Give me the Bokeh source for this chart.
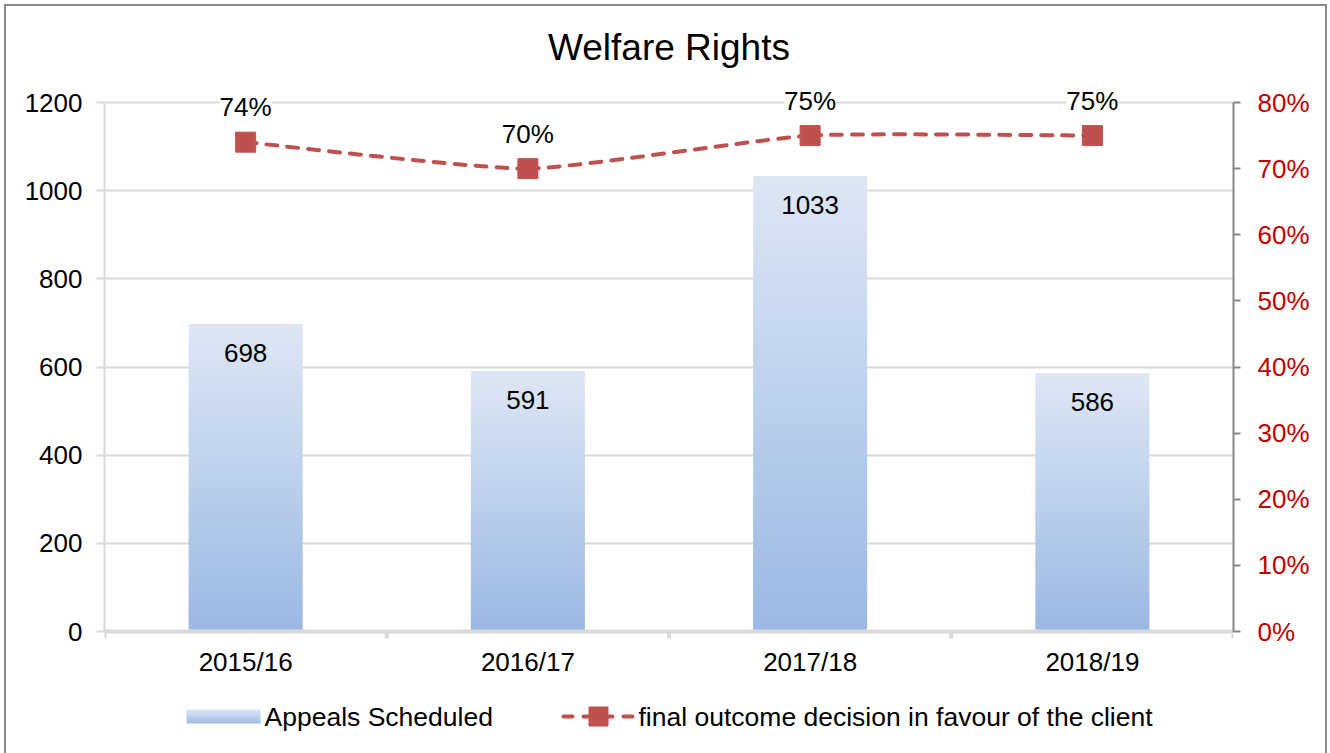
import numpy as np
from bokeh.plotting import figure
from bokeh.models import (Range1d, LinearAxis, FixedTicker, ColumnDataSource, LabelSet,
                          NumeralTickFormatter)
from bokeh.core.properties import value
from bokeh.embed import file_html
from bokeh.resources import INLINE

# ---- data ----
categories = ["2015/16", "2016/17", "2017/18", "2018/19"]
appeals = [698, 591, 1033, 586]
favour_pct = [0.74, 0.70, 0.75, 0.75]
left_ticks = [0, 200, 400, 600, 800, 1000, 1200]
right_ticks = [0.0, 0.1, 0.2, 0.3, 0.4, 0.5, 0.6, 0.7, 0.8]
legend_labels = ["Appeals Scheduled", "final outcome decision in favour of the client"]

FONT = "Liberation Sans"
RED = "#C0504D"
GRID = "#d9d9d9"
FS = "26px"
FS_LEG = "26.5px"

# ---- layout (pixels) ----
W, H = 1330, 753
FL, FR, FT, FB = 104, 1233, 80, 745      # plotting frame edges
PY0, PYTOP = 631, 102                    # pixel rows of the axis zero and of the top tick
upp_l = left_ticks[-1] / (PY0 - PYTOP)   # left-axis units per pixel
upp_r = right_ticks[-1] / (PY0 - PYTOP)  # right-axis units per pixel
ncat = len(categories)
xpp = ncat / (FR - FL)                   # x units per pixel

def X(px):
    return (px - FL) * xpp

def YL(py):
    return (PY0 - py) * upp_l

p = figure(width=W, height=H, output_backend="svg", toolbar_location=None,
           x_range=Range1d(0, ncat),
           y_range=Range1d(-(FB - PY0) * upp_l, (PY0 - FT) * upp_l),
           title="Welfare Rights",
           min_border_left=FL, min_border_right=W - FR, min_border_top=FT, min_border_bottom=H - FB)
p.extra_y_ranges = {"pct": Range1d(-(FB - PY0) * upp_r, (PY0 - FT) * upp_r)}
p.outline_line_color = None
p.background_fill_color = "white"
p.border_fill_color = None

p.title.align = "center"
p.title.text_font = FONT
p.title.text_font_size = "37px"
p.title.text_font_style = "normal"
p.title.text_color = "black"
p.title.standoff = 26

xc = np.arange(ncat) + 0.5

# ---- gradient bars (per bar: light at top, blue at bottom) ----
N = 60
bottom_rgb = np.array([155, 184, 228])
top_rgb = np.array([222, 231, 244])

def grad(i, n):
    c = bottom_rgb + (top_rgb - bottom_rgb) * ((i + 0.5) / n)
    return "#%02x%02x%02x" % tuple(int(round(t)) for t in c)

qx0, qx1, qb, qt, qc = [], [], [], [], []
bw = 0.404
for x, v in zip(xc, appeals):
    for i in range(N):
        qx0.append(x - bw / 2)
        qx1.append(x + bw / 2)
        qb.append(v * i / N)
        qt.append(min(v, v * (i + 1.2) / N))
        qc.append(grad(i, N))
p.quad(left=qx0, right=qx1, bottom=qb, top=qt, fill_color=qc, line_color=None)

# ---- category axis (drawn at zero) ----
p.xaxis.visible = False
p.xgrid.visible = False
p.segment(x0=[0], y0=[0], x1=[ncat], y1=[0], line_color=GRID, line_width=4)
bnd = list(range(ncat + 1))
p.segment(x0=bnd, y0=[0] * len(bnd), x1=bnd, y1=[-7 * upp_l] * len(bnd),
          line_color=GRID, line_width=4)
src_cat = ColumnDataSource(dict(x=list(xc), y=[0] * ncat, t=categories))
p.add_layout(LabelSet(x="x", y="y", text="t", source=src_cat, y_offset=-30,
                      text_align="center", text_baseline="middle",
                      text_font=value(FONT), text_font_size=FS, text_color="black"))

# ---- smoothed dashed line (bezier through the points) ----
k = 1 / 12
pts_x = list(xc)
pts_y = list(favour_pct)
n = len(pts_x)
bx0, by0, bx1, by1, c0x, c0y, c1x, c1y = [], [], [], [], [], [], [], []
for i in range(n - 1):
    xm1, ym1 = (pts_x[i - 1], pts_y[i - 1]) if i > 0 else (pts_x[i], pts_y[i])
    xp2, yp2 = (pts_x[i + 2], pts_y[i + 2]) if i + 2 < n else (pts_x[i + 1], pts_y[i + 1])
    bx0.append(pts_x[i]); by0.append(pts_y[i])
    bx1.append(pts_x[i + 1]); by1.append(pts_y[i + 1])
    c0x.append(pts_x[i] + (pts_x[i + 1] - xm1) * k); c0y.append(pts_y[i] + (pts_y[i + 1] - ym1) * k)
    c1x.append(pts_x[i + 1] - (xp2 - pts_x[i]) * k); c1y.append(pts_y[i + 1] - (yp2 - pts_y[i]) * k)
p.bezier(x0=bx0, y0=by0, x1=bx1, y1=by1, cx0=c0x, cy0=c0y, cx1=c1x, cy1=c1y,
         line_color=RED, line_width=4, line_dash="11 10", line_cap="round", y_range_name="pct")
p.scatter(x=list(xc), y=favour_pct, marker="square", size=20, fill_color=RED, line_color=RED,
          y_range_name="pct")

# ---- data labels ----
src_bar = ColumnDataSource(dict(x=list(xc), y=appeals, t=[str(v) for v in appeals]))
p.add_layout(LabelSet(x="x", y="y", text="t", source=src_bar, y_offset=-29,
                      text_align="center", text_baseline="middle",
                      text_font=value(FONT), text_font_size=FS, text_color="black"))
src_pct = ColumnDataSource(dict(x=list(xc), y=favour_pct,
                                t=["%d%%" % round(v * 100) for v in favour_pct]))
kw = dict(x="x", y="y", text="t", source=src_pct, y_offset=35, y_range_name="pct",
          text_align="center", text_baseline="middle",
          text_font=value(FONT), text_font_size=FS, text_color="black",
          background_fill_color="white")
if "padding" in LabelSet.properties():
    kw["padding"] = 8
p.add_layout(LabelSet(**kw))

# ---- value axes ----
ya = p.yaxis[0]
ya.ticker = FixedTicker(ticks=left_ticks)
ya.bounds = (left_ticks[0], left_ticks[-1])
ya.axis_line_color = GRID
ya.axis_line_width = 2
ya.major_tick_line_color = GRID
ya.major_tick_line_width = 2
ya.major_tick_out = 8
ya.major_tick_in = 0
ya.minor_tick_line_color = None
ya.major_label_text_font = FONT
ya.major_label_text_font_size = FS
ya.major_label_text_color = "black"
ya.major_label_standoff = 14
p.ygrid.ticker = FixedTicker(ticks=left_ticks)
p.ygrid.grid_line_color = GRID
p.ygrid.grid_line_width = 2

ra = LinearAxis(y_range_name="pct", ticker=FixedTicker(ticks=right_ticks),
                formatter=NumeralTickFormatter(format="0%"),
                bounds=(right_ticks[0], right_ticks[-1]))
ra.axis_line_color = "#868686"
ra.axis_line_width = 2
ra.major_tick_line_color = "#868686"
ra.major_tick_line_width = 2
ra.major_tick_out = 7
ra.major_tick_in = 0
ra.minor_tick_line_color = None
ra.major_label_text_font = FONT
ra.major_label_text_font_size = FS
ra.major_label_text_color = "#C00000"
ra.major_label_standoff = 17
p.add_layout(ra, "right")

# ---- legend (drawn below the axis) ----
LY = 716
NS = 8
sw_b, sw_t = YL(LY + 7), YL(LY - 7)
p.quad(left=[X(186)] * NS, right=[X(260)] * NS,
       bottom=[sw_b + (sw_t - sw_b) * i / NS for i in range(NS)],
       top=[sw_b + (sw_t - sw_b) * min(1, (i + 1.2) / NS) for i in range(NS)],
       fill_color=[grad(i, NS) for i in range(NS)], line_color=None)
p.line(x=[X(563), X(633)], y=[YL(LY)] * 2, line_color=RED, line_width=4,
       line_dash="9 11", line_cap="round")
p.scatter(x=[X(598)], y=[YL(LY)], marker="square", size=19, fill_color=RED, line_color=RED)
p.text(x=[X(264), X(638)], y=[YL(LY)] * 2, text=legend_labels,
       text_font=value(FONT), text_font_size=FS_LEG, text_color="black",
       text_baseline="middle", text_align="left")

p.styles = {
    "background-color": "white",
    "background-image": "linear-gradient(#888888,#888888), linear-gradient(#888888,#888888), linear-gradient(#888888,#888888)",
    "background-size": "2px 100%, calc(100% - 8px) 2px, 2px 100%",
    "background-position": "4px 4px, 4px 4px, right 3px top 4px",
    "background-repeat": "no-repeat",
}

open("out.html", "w").write(file_html(p, INLINE))
